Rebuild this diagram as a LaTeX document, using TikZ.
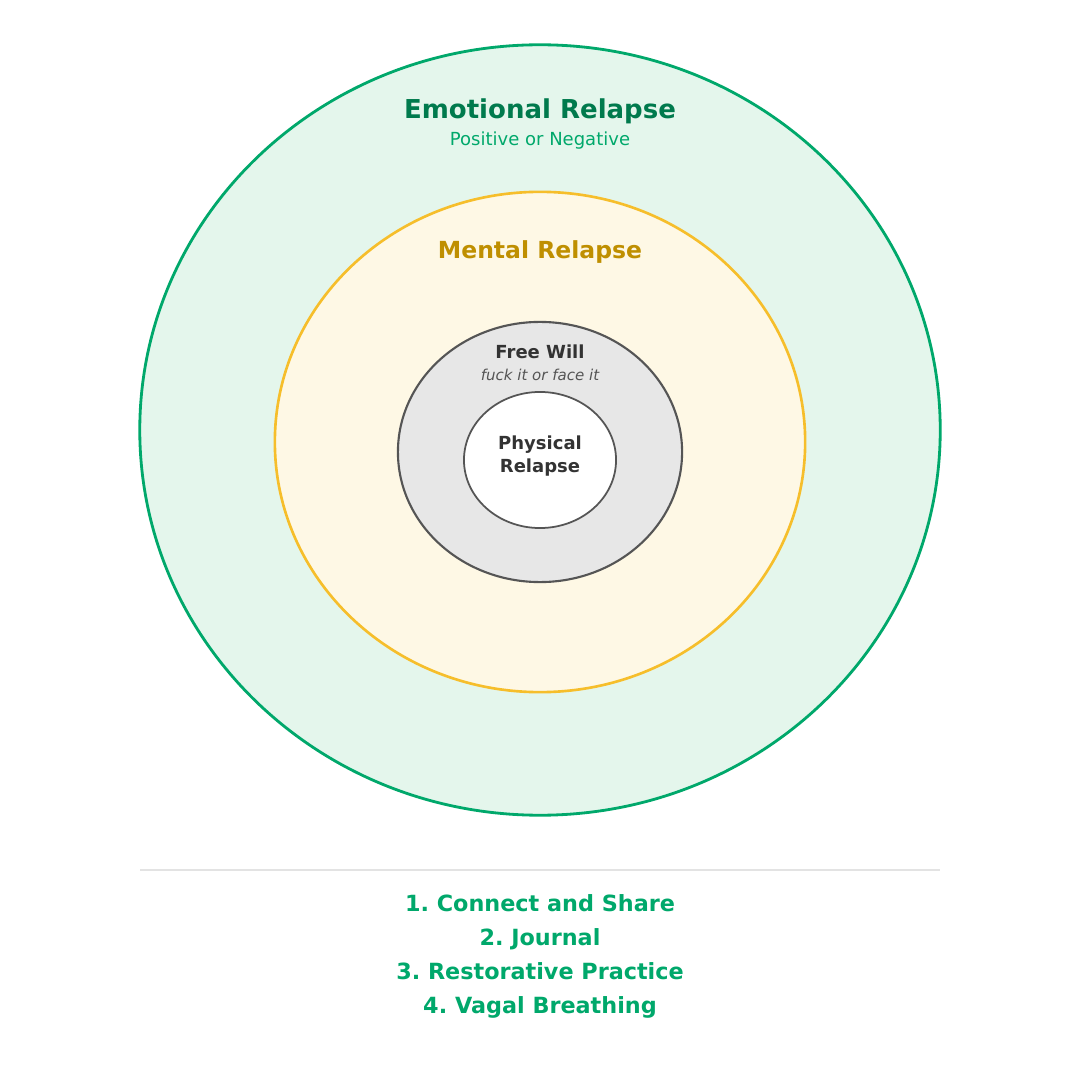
\documentclass[tikz,border=0pt]{standalone}
\usepackage{fontspec}
\setmainfont{DejaVu Sans}
\usepackage{xcolor}
\usetikzlibrary{shapes.geometric}

\definecolor{emoline}{HTML}{00A86B}
\definecolor{emofill}{HTML}{E4F6EC}
\definecolor{emotext}{HTML}{007A4D}
\definecolor{menline}{HTML}{F6BE2B}
\definecolor{menfill}{HTML}{FEF8E5}
\definecolor{mentext}{HTML}{BF8F00}
\definecolor{willfill}{HTML}{E7E7E7}
\definecolor{darkline}{HTML}{555555}
\definecolor{darktext}{HTML}{333333}
\definecolor{rulegray}{HTML}{E3E3E3}

% font size in pixels of the picture; \pxl also takes the leading in pixels
\newcommand{\px}[1]{\fontsize{\fpeval{#1*0.2845}pt}{\fpeval{#1*0.2845*1.2}pt}\selectfont}
\newcommand{\pxl}[2]{\fontsize{\fpeval{#1*0.2845}pt}{\fpeval{#2*0.2845}pt}\selectfont}

\tikzset{
  ring/.style={ellipse,draw,inner sep=0pt},
  label/.style={anchor=base,inner sep=0pt,align=center},
}

\begin{document}
\frenchspacing
\begin{tikzpicture}[x=0.01cm,y=-0.01cm]
\useasboundingbox[fill=white] (0,0) rectangle (1080,1080);

% Nested rings
\node[ring,draw=emoline,fill=emofill,line width=0.8pt,minimum width=8cm,minimum height=7.7cm] (emotional) at (540,430) {};
\node[ring,draw=menline,fill=menfill,line width=0.75pt,minimum width=5.3cm,minimum height=5cm] (mental) at (540,442) {};
\node[ring,draw=darkline,fill=willfill,line width=0.6pt,minimum width=2.84cm,minimum height=2.6cm] (freewill) at (540,452) {};
\node[ring,draw=darkline,fill=white,line width=0.5pt,minimum width=1.52cm,minimum height=1.36cm] (physical) at (540,460) {};

% Ring labels
\node[label,text=emotext,font=\px{26}\bfseries] (emotitle) at (540,119) {Emotional Relapse};
\node[label,text=emoline,font=\px{18}] (emosub) at (540,146) {Positive or Negative};
\node[label,text=mentext,font=\px{23.5}\bfseries] (mentitle) at (540,259) {Mental Relapse};
\node[label,text=darktext,font=\px{18}\bfseries] (willtitle) at (540,359) {Free Will};
\node[label,text=darkline,font=\px{15}\itshape] (willsub) at (540,381) {fuck it or face it};
\node[label,text=darktext,font=\pxl{18}{22}\bfseries] (phystitle) at (540,472) {Physical\\Relapse};

% Divider and steps
\coordinate (ruleleft) at (140,870);
\coordinate (ruleright) at (940,870);
\draw[rulegray,line width=0.5pt] (ruleleft) -- (ruleright);
\node[label,text=emoline,font=\px{22.3}\bfseries] (step1) at (540,911) {1. Connect and Share};
\node[label,text=emoline,font=\px{22.3}\bfseries] (step2) at (540,945) {2. Journal};
\node[label,text=emoline,font=\px{22.3}\bfseries] (step3) at (540,979) {3. Restorative Practice};
\node[label,text=emoline,font=\px{22.3}\bfseries] (step4) at (540,1013) {4. Vagal Breathing};
\end{tikzpicture}
\end{document}
